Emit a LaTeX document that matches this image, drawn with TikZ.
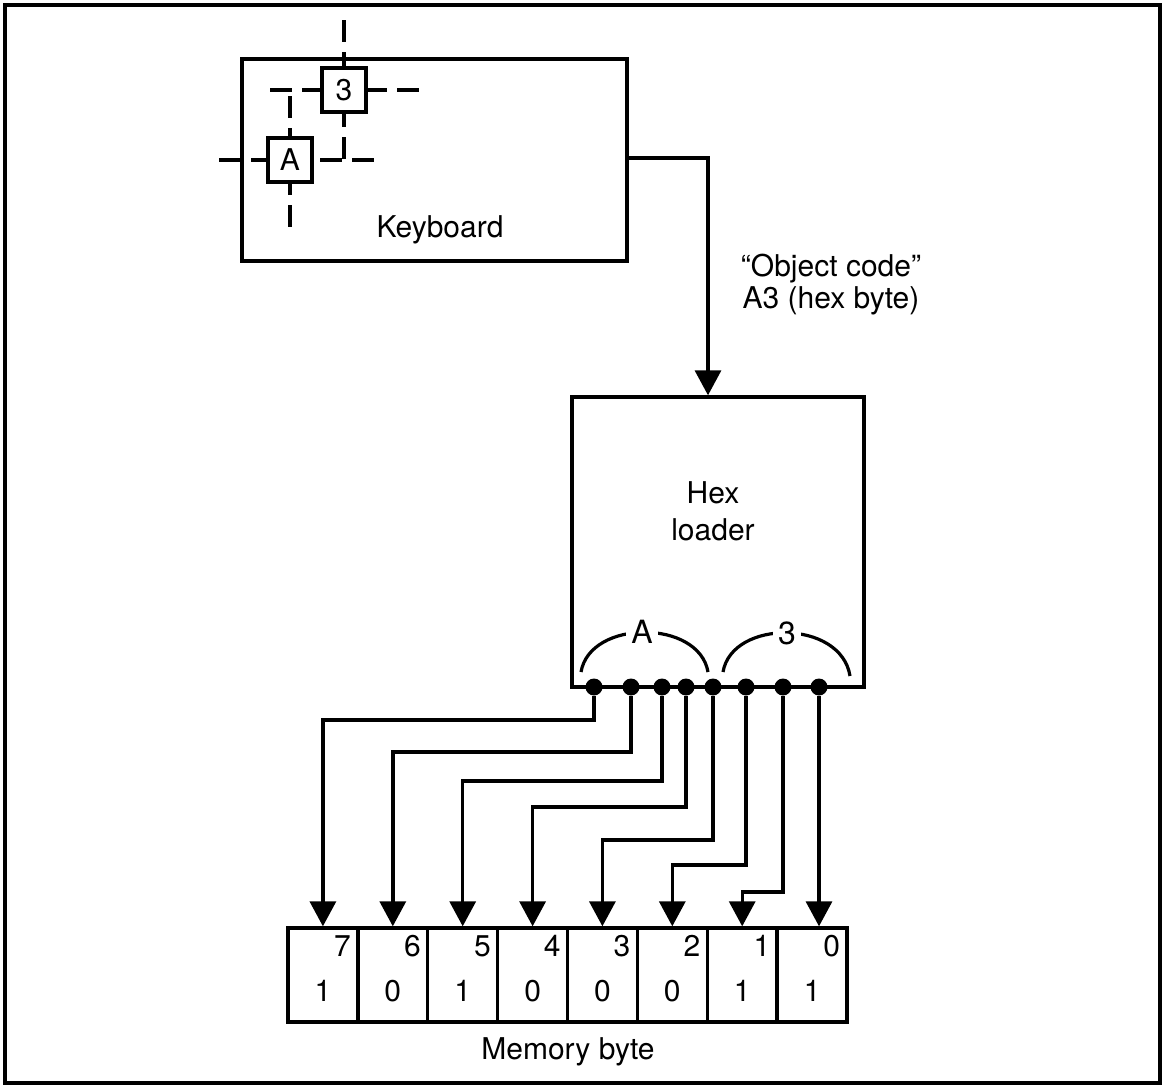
\documentclass[tikz,border=0pt]{standalone}
\usepackage{fontspec}
\setmainfont{TeX Gyre Heros}
\usetikzlibrary{arrows.meta,calc}
\begin{document}
\begin{tikzpicture}[x=0.5pt,y=-0.5pt,
  box/.style={draw,line width=1.7pt,fill=white,inner sep=0pt},
  keybox/.style={draw,line width=1.6pt,fill=white,minimum size=22pt,inner sep=0pt,font=\fontsize{15}{15}\selectfont},
  gridline/.style={line width=1.6pt,dash pattern=on 11pt off 5pt},
  wire/.style={line width=1.7pt},
  tip/.style={-{Triangle[width=13pt,length=12.5pt]}},
  lbl/.style={font=\fontsize{15}{18.5}\selectfont,inner sep=0pt},
  dot/.style={circle,fill=black,minimum size=8.5pt,inner sep=0pt},
  cell/.style={draw,line width=1.7pt,minimum width=34.94pt,minimum height=47pt,inner sep=0pt},
  digit/.style={font=\fontsize{15}{15}\selectfont,inner sep=0pt},
  grp/.style={font=\fontsize{16}{16}\selectfont,fill=white,inner sep=2.5pt},
  ]
\useasboundingbox (0,0) rectangle (1165,1087);
\draw[line width=1.8pt] (5,5) rectangle (1160,1083);

% keyboard
\node[box,minimum width=192.5pt,minimum height=101pt] (kb) at (434.5,160) {};
\node[lbl] (kbt) at (440,230) {Keyboard};
\node[keybox] (k3) at (344,90) {3};
\node[keybox] (kA) at (290,160) {A};
\coordinate (k3n) at ($(k3.north)+(0,-46)$);
\coordinate (k3s) at ($(k3.south)+(0,45)$);
\coordinate (k3w) at ($(k3.west)+(-50,0)$);
\coordinate (k3e) at ($(k3.east)+(51,0)$);
\coordinate (kAn) at ($(kA.north)+(0,-40)$);
\coordinate (kAs) at ($(kA.south)+(0,43)$);
\coordinate (kAw) at ($(kA.west)+(-47,0)$);
\coordinate (kAe) at ($(kA.east)+(60,0)$);
\draw[gridline] (k3n) -- (k3.north);
\draw[gridline] (k3s) -- (k3.south);
\draw[gridline] (k3w) -- (k3.west);
\draw[gridline] (k3e) -- (k3.east);
\draw[gridline] (kAn) -- (kA.north);
\draw[gridline] (kAs) -- (kA.south);
\draw[gridline] (kAw) -- (kA.west);
\draw[gridline] (kAe) -- (kA.east);

% hex loader
\node[box,minimum width=146pt,minimum height=145pt] (hex) at (718,542) {};
\node[lbl,align=center] (hext) at (713,511) {Hex\\loader};
\draw[wire,tip] ([yshift=1pt]kb.east) -| ([xshift=-5pt]hex.north);
\node[lbl,align=center,font=\fontsize{15}{16}\selectfont] (oc) at (831,285) {“Object code”\\A3 (hex byte)};

% nibble groups
\draw[line width=1.6pt] (581,672) .. controls (590,619) and (699,619) .. (708,672);
\node[grp] (gA) at (642,632) {A};
\draw[line width=1.6pt] (723,672) .. controls (732,619) and (841,619) .. (850,676);
\node[grp] (g3) at (787,633) {3};

% output dots
\foreach \b/\x in {7/594,6/631,5/662,4/686,3/713,2/746,1/783,0/819}
  \node[dot] (d\b) at (\x,687) {};

% memory byte
\foreach \b/\x/\v in {7/322.9/1,6/392.8/0,5/462.7/1,4/532.6/0,3/602.4/0,2/672.3/0,1/742.2/1,0/812.1/1}{
  \node[cell] (m\b) at (\x,975) {};
  \node[digit] (t\b) at ($(m\b.north east)+(-17,20)$) {\b};
  \node[digit] (v\b) at ($(m\b.south)+(0,-33)$) {\v};
}
\node[lbl] (mb) at (568,1052) {Memory byte};

% wires
\foreach \b/\j in {7/24,6/56,5/85,4/111,3/144,2/169,1/196}
  \draw[wire,tip] (d\b.south) -- ++(0,\j) -| (m\b.north);
\draw[wire,tip] (d0.south) -- (d0.south |- m0.north);
\end{tikzpicture}
\end{document}
